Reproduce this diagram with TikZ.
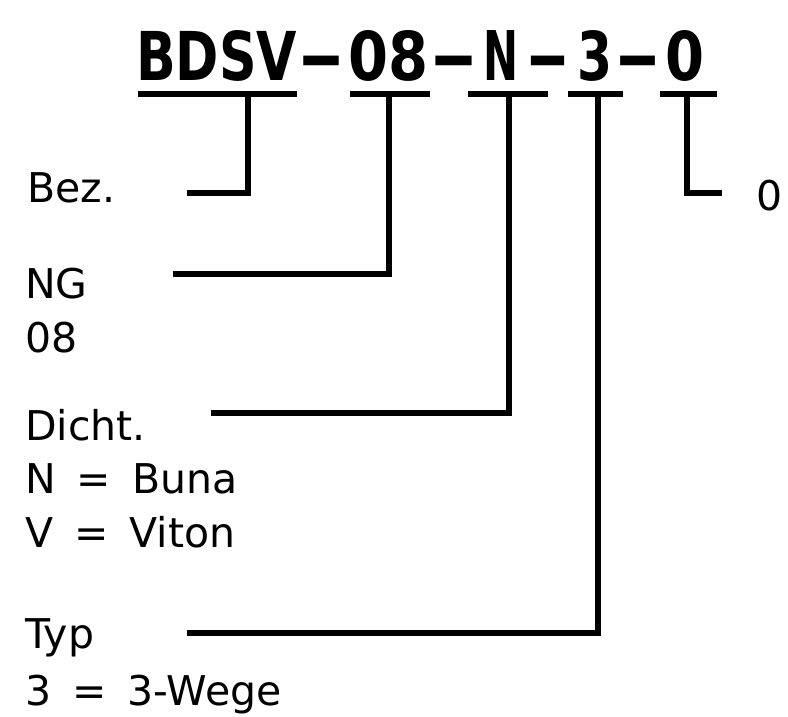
\documentclass[tikz,border=0pt]{standalone}
\usepackage{fontspec}
\setmainfont{DejaVu Sans}
\usepackage{graphicx}
\newcommand\tseg[2]{\resizebox{#1}{50pt}{#2}}
\newcommand\tdsh[1]{\resizebox{#1}{\height}{-}}
\newcommand\lblfont{\fontsize{41}{41}\selectfont\spaceskip 21pt\relax}
\begin{document}
\begin{tikzpicture}[x=1pt,y=-1pt,
  lbl/.style={inner sep=0pt,anchor=base west,font=\lblfont},
  ttl/.style={inner sep=0pt,anchor=base west,font=\fontsize{68}{68}\selectfont\bfseries},
  bar/.style={line width=6pt},
  conn/.style={line width=6.8pt,line join=miter}]
\useasboundingbox[fill=white] (0,0) rectangle (788,716);
% title
\node[ttl] (title) at (136,80) {\tseg{161pt}{BDSV}\hspace{0pt}\tdsh{48pt}\hspace{3pt}\tseg{80pt}{08}\hspace{1pt}\tdsh{49pt}\hspace{5pt}\tseg{35pt}{N}\hspace{7pt}\tdsh{45pt}\hspace{7pt}\tseg{35pt}{3}\hspace{2pt}\tdsh{47pt}\hspace{4pt}\tseg{39pt}{0}};
% bars under the title
\coordinate (b1l) at (138,94); \coordinate (b1r) at (297,94);
\coordinate (b2l) at (350,94); \coordinate (b2r) at (430,94);
\coordinate (b3l) at (468,94); \coordinate (b3r) at (548,94);
\coordinate (b4l) at (568,94); \coordinate (b4r) at (623,94);
\coordinate (b5l) at (660,94); \coordinate (b5r) at (717,94);
\foreach \i in {1,...,5} \draw[bar] (b\i l) -- (b\i r);
% stems
\coordinate (s1) at (248,94);
\coordinate (s2) at (389,94);
\coordinate (s3) at (509,94);
\coordinate (s4) at (598,94);
\coordinate (s5) at (687,94);
% labels
\node[lbl] (bez) at (27,202) {Bez.};
\node[lbl] (ng) at (25,298) {NG};
\node[lbl] (ng2) at (25,352) {08};
\node[lbl] (dicht) at (25,440) {Dicht.};
\node[lbl] (dn) at (25,493) {N = Buna};
\node[lbl] (dv) at (25,547) {V = Viton};
\node[lbl] (typ) at (25,648) {Typ};
\node[lbl] (typ3) at (25,705) {3 = 3-Wege};
\node[lbl] (zero) at (756,210) {0};
% connector ends
\coordinate (e1) at (187,193);
\coordinate (e2) at (173,274);
\coordinate (e3) at (211,413);
\coordinate (e4) at (187,633);
\coordinate (e5) at (722,193);
\draw[conn] (s1) |- (e1);
\draw[conn] (s2) |- (e2);
\draw[conn] (s3) |- (e3);
\draw[conn] (s4) |- (e4);
\draw[conn] (s5) |- (e5);
\end{tikzpicture}
\end{document}
